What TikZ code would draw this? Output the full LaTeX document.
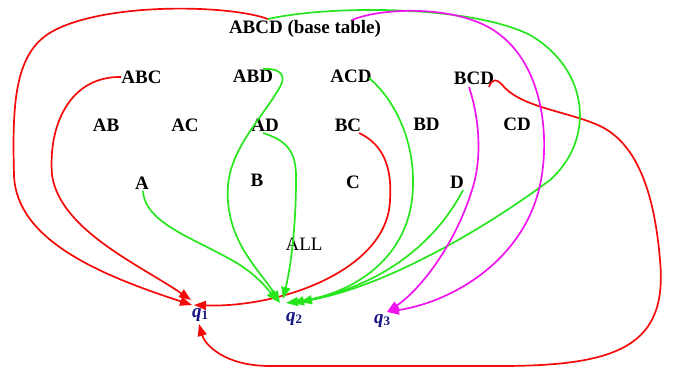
\documentclass[tikz,border=0pt]{standalone}
\usepackage{fontspec}
\setmainfont{Liberation Serif}
\usetikzlibrary{arrows.meta}
\definecolor{cred}{RGB}{245,10,10}
\definecolor{cgreen}{RGB}{40,230,30}
\definecolor{cmag}{RGB}{240,20,240}
\definecolor{cnavy}{RGB}{20,20,130}
\tikzset{
  lbl/.style={inner sep=0pt, font=\fontsize{19}{21}\selectfont\bfseries},
  lblr/.style={inner sep=0pt, font=\fontsize{19}{21}\selectfont},
  qlbl/.style={inner sep=0pt, text=cnavy, font=\fontsize{19}{21}\selectfont\bfseries\itshape},
  conn/.style={line width=1.7pt, -{Triangle[length=12pt,width=9pt]}},
  redl/.style={conn, cred},
  greenl/.style={conn, cgreen},
  magl/.style={conn, cmag}
}
\newcommand{\qsub}[1]{\textit{q}\raisebox{-2pt}{\fontsize{13}{13}\selectfont\upshape\bfseries #1}}
\begin{document}
\begin{tikzpicture}[x=1pt,y=-1pt]
\useasboundingbox (0,0) rectangle (677,368);
% nodes
\node[lbl] (ABCD) at (305,29) {ABCD (base table)};
\node[lbl] (ABC) at (141.5,77) {ABC};
\node[lbl] (ABD) at (253,76) {ABD};
\node[lbl] (ACD) at (351,76) {ACD};
\node[lbl] (BCD) at (474,78) {BCD};
\node[lbl] (AB) at (106,125) {AB};
\node[lbl] (AC) at (185,125) {AC};
\node[lbl] (AD) at (265,125) {AD};
\node[lbl] (BC) at (348,125) {BC};
\node[lbl] (BD) at (426.5,124) {BD};
\node[lbl] (CD) at (517,124) {CD};
\node[lbl] (A) at (142,183) {A};
\node[lbl] (B) at (257,180) {B};
\node[lbl] (C) at (353,182) {C};
\node[lbl] (D) at (457,182) {D};
\node[lblr] (ALL) at (304,244) {ALL};
\node[qlbl] (q1) at (200,315) {\qsub{1}};
\node[qlbl] (q2) at (294,319) {\qsub{2}};
\node[qlbl] (q3) at (382,321) {\qsub{3}};
% red connectors
\draw[redl] ([shift={(-37,-10)}]ABCD.center) .. controls (230,5) and (110,2) .. (55,30)
  .. controls (15,50) and (12,100) .. (14,175)
  .. controls (16,240) and (100,275) .. ([shift={(-8,-10)}]q1.center);
\draw[redl] (ABC.west) .. controls (70,76) and (48,125) .. (52,175)
  .. controls (60,230) and (140,265) .. ([shift={(-9,-15)}]q1.center);
\draw[redl] ([shift={(11,8)}]BC.center) .. controls (385,145) and (392,170) .. (390,200)
  .. controls (388,270) and (280,308) .. ([shift={(-6,-10)}]q1.center);
\draw[redl] ([shift={(15,9)}]BCD.center) .. controls (492,78) and (497,78) .. (505,88)
  .. controls (525,108) and (570,112) .. (600,126)
  .. controls (640,145) and (655,200) .. (660,260)
  .. controls (668,345) and (620,366) .. (500,366)
  -- (270,366) .. controls (225,366) and (205,345) .. ([shift={(-1,9)}]q1.center);
% green connectors
\draw[greenl] ([shift={(-37,-10)}]ABCD.center) .. controls (330,5) and (470,5) .. (530,35)
  .. controls (590,70) and (595,140) .. (550,180)
  .. controls (490,225) and (390,285) .. ([shift={(6,-17)}]q2.center);
\draw[greenl] ([shift={(10,-7)}]ABD.center) .. controls (275,68) and (287,72) .. (281,85)
  .. controls (265,115) and (232,145) .. (228,185)
  .. controls (224,240) and (260,270) .. ([shift={(-14,-16)}]q2.center);
\draw[greenl] ([shift={(-2,8)}]AD.center) .. controls (285,140) and (297,150) .. (296,180)
  .. controls (296,230) and (290,270) .. ([shift={(-11,-20)}]q2.center);
\draw[greenl] ([shift={(1,8)}]A.center) .. controls (145,225) and (200,240) .. (240,265)
  .. controls (260,278) and (270,292) .. ([shift={(-16,-17)}]q2.center);
\draw[greenl] ([shift={(18,2)}]ACD.center) .. controls (395,100) and (414,140) .. (413,185)
  .. controls (412,260) and (350,295) .. ([shift={(-8,-16)}]q2.center);
\draw[greenl] ([shift={(6,8)}]D.center) .. controls (440,235) and (390,285) .. ([shift={(-2,-16)}]q2.center);
% magenta connectors
\draw[magl] ([shift={(47,-9)}]ABCD.center) .. controls (380,8) and (450,5) .. (490,28)
  .. controls (545,60) and (550,140) .. (540,185)
  .. controls (525,255) and (460,300) .. ([shift={(5,-9)}]q3.center);
\draw[magl] ([shift={(-5,9)}]BCD.center) .. controls (480,120) and (482,160) .. (472,190)
  .. controls (455,245) and (420,290) .. ([shift={(5,-9)}]q3.center);
\end{tikzpicture}
\end{document}
